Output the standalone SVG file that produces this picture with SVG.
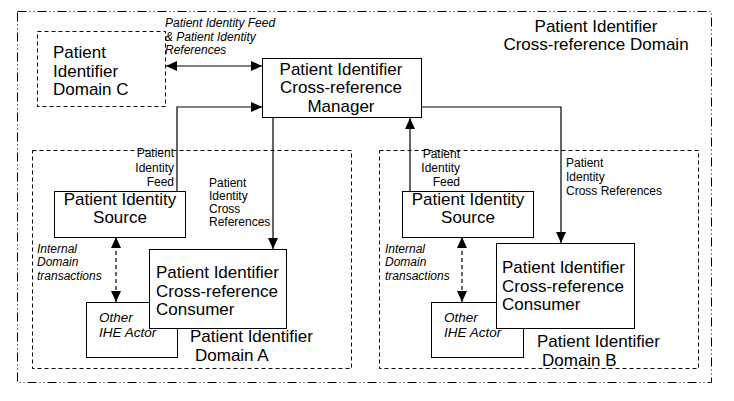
<svg xmlns="http://www.w3.org/2000/svg" width="734" height="401" viewBox="0 0 734 401">
<style>
text{font-family:"Liberation Sans",Arial,sans-serif;fill:#000}
.big{font-size:17px}
.sm{font-size:12px}
.it{font-size:12px;font-style:italic}
.it2{font-size:13.5px;font-style:italic}
.box{fill:#fff;stroke:#000;stroke-width:1}
.dash{fill:none;stroke:#000;stroke-width:1;stroke-dasharray:4 3}
.outer{fill:none;stroke:#000;stroke-width:1;stroke-dasharray:9 3 1 3 1 3}
.ln{fill:none;stroke:#000;stroke-width:1.2}
.dl{fill:none;stroke:#000;stroke-width:1.2;stroke-dasharray:4 3}
</style>
<defs>
<marker id="ah" markerUnits="userSpaceOnUse" markerWidth="12" markerHeight="11" refX="11" refY="5" orient="auto-start-reverse">
<path d="M0,0 L11,5 L0,10 z" fill="#000"/>
</marker>
</defs>
<rect width="734" height="401" fill="#fff"/>
<g id="xref-domain">
<rect class="outer" x="17.5" y="11.5" width="694" height="371"/>
<text class="big" x="596" y="32" text-anchor="middle">Patient Identifier</text>
<text class="big" x="596" y="50" text-anchor="middle">Cross-reference Domain</text>
</g>
<g id="domain-c">
<rect class="dash" x="37.5" y="31.5" width="128" height="75"/>
<text class="big" x="53" y="58">Patient</text>
<text class="big" x="53" y="77">Identifier</text>
<text class="big" x="53" y="95">Domain C</text>
</g>
<g id="domain-a">
<rect class="dash" x="32.5" y="150.5" width="319" height="218"/>
<text class="big" x="190" y="342">Patient Identifier</text>
<text class="big" x="195" y="361">Domain A</text>
</g>
<g id="domain-b">
<rect class="dash" x="379.5" y="150.5" width="319" height="218"/>
<text class="big" x="537" y="347">Patient Identifier</text>
<text class="big" x="542" y="366">Domain B</text>
</g>
<g id="connectors">
<line class="ln" x1="166" y1="66" x2="262" y2="66" marker-start="url(#ah)" marker-end="url(#ah)"/>
<polyline class="ln" points="177,191 177,107 262,107" marker-end="url(#ah)"/>
<line class="ln" x1="273" y1="118" x2="273" y2="249" marker-end="url(#ah)"/>
<line class="ln" x1="410" y1="191" x2="410" y2="118" marker-end="url(#ah)"/>
<polyline class="ln" points="421,107 561,107 561,243" marker-end="url(#ah)"/>
<line class="dl" x1="116" y1="237" x2="116" y2="302" marker-start="url(#ah)" marker-end="url(#ah)"/>
<line class="dl" x1="462" y1="237" x2="462" y2="302" marker-start="url(#ah)" marker-end="url(#ah)"/>
<text class="it" x="165" y="27">Patient Identity Feed</text>
<text class="it" x="165" y="41">&amp; Patient Identity</text>
<text class="it" x="165" y="54">References</text>
<text class="sm" x="174" y="157" text-anchor="end">Patient</text>
<text class="sm" x="174" y="172" text-anchor="end">Identity</text>
<text class="sm" x="174" y="186" text-anchor="end">Feed</text>
<text class="sm" x="209" y="187">Patient</text>
<text class="sm" x="209" y="200">Identity</text>
<text class="sm" x="209" y="213">Cross</text>
<text class="sm" x="209" y="226">References</text>
<text class="sm" x="460" y="158" text-anchor="end">Patient</text>
<text class="sm" x="460" y="172" text-anchor="end">Identity</text>
<text class="sm" x="460" y="186" text-anchor="end">Feed</text>
<text class="sm" x="566" y="167">Patient</text>
<text class="sm" x="566" y="181">Identity</text>
<text class="sm" x="566" y="195">Cross References</text>
<text class="it" x="37" y="253">Internal</text>
<text class="it" x="37" y="266">Domain</text>
<text class="it" x="37" y="280">transactions</text>
<text class="it" x="385" y="253">Internal</text>
<text class="it" x="385" y="266">Domain</text>
<text class="it" x="385" y="280">transactions</text>
</g>
<g id="manager">
<rect class="box" x="262.5" y="58.5" width="159" height="59"/>
<text class="big" x="341" y="75" text-anchor="middle">Patient Identifier</text>
<text class="big" x="341" y="93" text-anchor="middle">Cross-reference</text>
<text class="big" x="341" y="112" text-anchor="middle">Manager</text>
</g>
<g id="source-a">
<rect class="box" x="54.5" y="191.5" width="131" height="46"/>
<text class="big" x="120" y="205" text-anchor="middle">Patient Identity</text>
<text class="big" x="120" y="223" text-anchor="middle">Source</text>
</g>
<g id="other-a">
<rect class="box" x="86.5" y="302.5" width="91" height="55"/>
<text class="it2" x="99" y="322">Other</text>
<text class="it2" x="99" y="337">IHE Actor</text>
</g>
<g id="consumer-a">
<rect class="box" x="149.5" y="249.5" width="137" height="79"/>
<text class="big" x="156" y="278">Patient Identifier</text>
<text class="big" x="156" y="297">Cross-reference</text>
<text class="big" x="156" y="315">Consumer</text>
</g>
<g id="source-b">
<rect class="box" x="402.5" y="191.5" width="131" height="46"/>
<text class="big" x="468" y="205" text-anchor="middle">Patient Identity</text>
<text class="big" x="468" y="223" text-anchor="middle">Source</text>
</g>
<g id="other-b">
<rect class="box" x="431.5" y="302.5" width="92" height="55"/>
<text class="it2" x="444" y="322">Other</text>
<text class="it2" x="444" y="337">IHE Actor</text>
</g>
<g id="consumer-b">
<rect class="box" x="496.5" y="243.5" width="138" height="85"/>
<text class="big" x="502" y="273">Patient Identifier</text>
<text class="big" x="502" y="292">Cross-reference</text>
<text class="big" x="502" y="310">Consumer</text>
</g>
</svg>
